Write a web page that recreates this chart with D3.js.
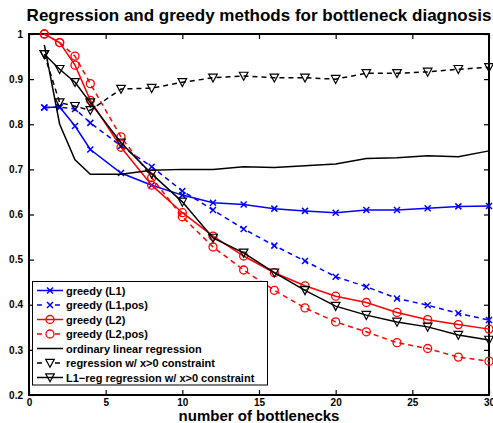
<!DOCTYPE html>
<meta charset="utf-8">
<body style="margin:0;background:#fff">
<script src="https://d3js.org/d3.v7.min.js"></script>
<script>

// number of bottlenecks (x positions of the points)
var bottlenecks = [1, 2, 3, 4, 6, 8, 10, 12, 14, 16, 18, 20, 22, 24, 26, 28, 30];

// series values
var greedyL1    = [0.837, 0.838, 0.796, 0.744, 0.692, 0.665, 0.643, 0.626, 0.622, 0.613, 0.608, 0.604, 0.610, 0.610, 0.614, 0.618, 0.619];
var greedyL1pos = [0.837, 0.838, 0.834, 0.803, 0.752, 0.706, 0.652, 0.610, 0.568, 0.531, 0.497, 0.462, 0.440, 0.414, 0.399, 0.381, 0.366];
var greedyL2    = [1.000, 0.981, 0.931, 0.853, 0.749, 0.665, 0.604, 0.552, 0.508, 0.471, 0.442, 0.419, 0.405, 0.383, 0.367, 0.356, 0.346];
var greedyL2pos = [1.000, 0.981, 0.951, 0.890, 0.772, 0.682, 0.595, 0.528, 0.477, 0.432, 0.393, 0.362, 0.340, 0.316, 0.303, 0.284, 0.275];
var ordinaryReg = [0.976, 0.800, 0.721, 0.689, 0.689, 0.698, 0.700, 0.700, 0.706, 0.704, 0.708, 0.712, 0.724, 0.726, 0.730, 0.728, 0.741];
var posReg      = [0.955, 0.848, 0.840, 0.831, 0.878, 0.880, 0.893, 0.903, 0.907, 0.903, 0.903, 0.900, 0.913, 0.913, 0.916, 0.922, 0.926];
var l1PosReg    = [0.955, 0.922, 0.893, 0.848, 0.759, 0.690, 0.628, 0.548, 0.515, 0.471, 0.432, 0.397, 0.377, 0.362, 0.351, 0.333, 0.322];

var xTicks = [0, 5, 10, 15, 20, 25, 30];
var yTicks = [0.2, 0.3, 0.4, 0.5, 0.6, 0.7, 0.8, 0.9, 1];

var series = [
  {name: "greedy (L1)",       values: greedyL1,    color: "#0000ff", dash: null,  marker: "x"},
  {name: "greedy (L1,pos)",   values: greedyL1pos, color: "#0000ff", dash: "5,4", marker: "x"},
  {name: "greedy (L2)",       values: greedyL2,    color: "#ff0000", dash: null,  marker: "o"},
  {name: "greedy (L2,pos)",   values: greedyL2pos, color: "#ff0000", dash: "5,4", marker: "o"},
  {name: "ordinary linear regression",          values: ordinaryReg, color: "#000", dash: null,  marker: null},
  {name: "regression w/ x>0 constraint",        values: posReg,      color: "#000", dash: "5,4", marker: "v"},
  {name: "L1\u2212reg regression w/ x>0 constraint", values: l1PosReg, color: "#000", dash: null, marker: "v"}
];

var W = 493, H = 423;
var pL = 29, pR = 489, pT = 34, pB = 395;
var font = "'Liberation Sans', Arial, sans-serif";

var x = d3.scaleLinear().domain([0, 30]).range([pL, pR]);
var y = d3.scaleLinear().domain([0.2, 1]).range([pB, pT]);

var svg = d3.select("body").append("svg")
    .attr("width", W)
    .attr("height", H)
    .style("font-family", font)
    .style("font-weight", "bold");

// title
svg.append("text")
   .attr("x", (pL + pR) / 2)
   .attr("y", 21)
   .attr("text-anchor", "middle")
   .style("font-size", "17px")
   .text("Regression and greedy methods for bottleneck diagnosis");

// axes with inward ticks on all four sides
var tick = 5;
function boxAxis(g, axis) {
  g.call(axis);
  g.select(".domain").remove();
  g.selectAll("line").attr("stroke", "#000").attr("stroke-width", 1.2);
  g.selectAll("text").attr("fill", "#000").attr("font-family", font)
   .style("font-size", "10px").style("font-weight", "bold");
}
svg.append("g").attr("transform", "translate(0," + pB + ")")
   .call(boxAxis, d3.axisBottom(x).tickValues(xTicks).tickSize(-tick).tickPadding(4).tickFormat(d3.format("d")));
svg.append("g").attr("transform", "translate(0," + pT + ")")
   .call(boxAxis, d3.axisTop(x).tickValues(xTicks).tickSize(-tick).tickFormat(""));
svg.append("g").attr("transform", "translate(" + pL + ",0)")
   .call(boxAxis, d3.axisLeft(y).tickValues(yTicks).tickSize(-tick).tickPadding(6)
     .tickFormat(function(d) { return d === 1 ? "1" : d3.format(".1f")(d); }));
svg.append("g").attr("transform", "translate(" + pR + ",0)")
   .call(boxAxis, d3.axisRight(y).tickValues(yTicks).tickSize(-tick).tickFormat(""));

svg.append("rect")
   .attr("x", pL).attr("y", pT)
   .attr("width", pR - pL).attr("height", pB - pT)
   .attr("fill", "none").attr("stroke", "#000").attr("stroke-width", 2);

// x label
svg.append("text")
   .attr("x", 259)
   .attr("y", 421)
   .attr("text-anchor", "middle")
   .style("font-size", "15px")
   .text("number of bottlenecks");

// marker drawing
function drawMarker(g, type, color) {
  if (type === "x") {
    g.append("path").attr("d", "M-3,-3L3,3M-3,3L3,-3")
     .attr("stroke", color).attr("stroke-width", 1.5).attr("fill", "none");
  } else if (type === "o") {
    g.append("circle").attr("r", 4)
     .attr("stroke", color).attr("stroke-width", 1.3).attr("fill", "none");
  } else if (type === "v") {
    g.append("path").attr("d", "M-4.3,-3.7L4.3,-3.7L0,4.3Z")
     .attr("stroke", color).attr("stroke-width", 1.2).attr("fill", "none");
  }
}

var line = d3.line()
    .x(function(d) { return x(d[0]); })
    .y(function(d) { return y(d[1]); });

var plot = svg.append("g");
series.forEach(function(s) {
  var pts = bottlenecks.map(function(b, i) { return [b, s.values[i]]; });
  plot.append("path")
      .datum(pts)
      .attr("d", line)
      .attr("fill", "none")
      .attr("stroke", s.color)
      .attr("stroke-width", 1.5)
      .attr("stroke-dasharray", s.dash);
  if (s.marker) {
    plot.selectAll(null)
        .data(pts)
        .enter().append("g")
        .attr("transform", function(d) { return "translate(" + x(d[0]) + "," + y(d[1]) + ")"; })
        .each(function() { drawMarker(d3.select(this), s.marker, s.color); });
  }
});

// legend
var lg = svg.append("g");
lg.append("rect")
  .attr("x", 32.5).attr("y", 281.5)
  .attr("width", 235).attr("height", 103.5)
  .attr("fill", "#fff").attr("stroke", "#000").attr("stroke-width", 1);
series.forEach(function(s, i) {
  var yy = 290.5 + i * 14.5;
  lg.append("line")
    .attr("x1", 37).attr("x2", 63).attr("y1", yy).attr("y2", yy)
    .attr("stroke", s.color).attr("stroke-width", 1.5)
    .attr("stroke-dasharray", s.dash);
  if (s.marker) {
    var m = lg.append("g").attr("transform", "translate(50," + yy + ")");
    if (s.dash) {
      m.append("rect").attr("x", -5).attr("y", -5).attr("width", 10).attr("height", 10).attr("fill", "#fff");
    }
    drawMarker(m, s.marker, s.color);
  }
  lg.append("text")
    .attr("x", 66).attr("y", yy + 4)
    .style("font-size", "11px")
    .text(s.name);
});

</script>
</body>
</html>
